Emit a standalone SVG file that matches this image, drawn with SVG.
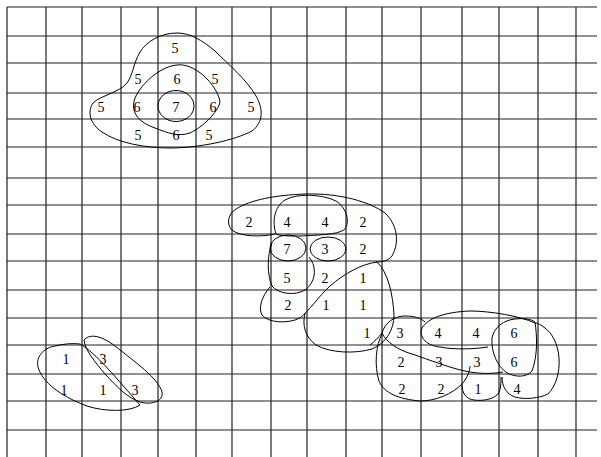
<svg xmlns="http://www.w3.org/2000/svg" width="601" height="457" viewBox="0 0 601 457">
<style>
.g{stroke:#222;stroke-width:1.2;fill:none}
.c{stroke:#000;stroke-width:1;fill:none}
text{font-family:"Liberation Serif","Times New Roman",serif;font-size:14px;text-anchor:middle;fill:#000}
</style>
<rect x="0" y="0" width="601" height="457" fill="#fff"/>
<g id="grid" class="g">
<path d="M7,7V457M46,7V457M82,7V457M121,7V457M158,7V457M196,7V457M232,7V457M271,7V457M307,7V457M346,7V457M382,7V457M421,7V457M462,7V457M499,7V457M538,7V457M576,7V457"/>
<path d="M7,7H597M7,36H597M7,63H597M7,93H597M7,119H597M7,147H597M7,178H597M7,205H597M7,234H597M7,261H597M7,290H597M7,318H597M7,345H597M7,374H597M7,401H597M7,430H597"/>
</g>
<g id="connectors" class="c">
<!-- top cluster -->
<ellipse cx="176" cy="106" rx="18" ry="15.5"/>
<path d="M177,65 C162,66 142,82 135,98 C130,112 138,122 155,128 C168,133 178,137 190,133 C203,127 218,112 220,102 C219,92 208,78 199,72 C192,67 184,64 177,65 Z"/>
<path d="M177,33 C160,33 146,42 140,52 C133,64 133,75 127,83 C120,92 100,96 93,103 C87,112 90,124 102,132 C118,143 145,148 170,148 C200,148 235,140 252,131 C264,122 263,108 256,96 C247,80 228,64 215,51 C202,40 190,33 177,33 Z"/>
<!-- middle cluster -->
<path d="M275,234 C262,237 240,237 232,230 C226,224 228,214 236,209 C250,200 275,195 306,194 C340,193 370,202 385,213 C397,224 400,242 392,256 C388,261 382,262 376,262"/>
<path d="M276,234 C272,222 274,207 285,200 C297,193 322,194 336,201 C347,208 350,222 345,229 C338,235 318,235 300,236 C290,236 280,236 276,234 Z"/>
<ellipse cx="288" cy="248" rx="18" ry="13"/>
<ellipse cx="328" cy="249" rx="18" ry="12"/>
<path d="M272,243 C267,255 267,275 272,286 C278,294 295,296 305,290 C315,283 318,268 309,257"/>
<path d="M270,287 C262,296 258,308 262,315 C268,323 288,324 300,318 C310,310 318,297 330,286 C345,273 362,264 377,262 C388,272 393,295 394,315 C394,330 386,343 372,349 C355,354 330,353 316,345 C305,337 302,325 305,313"/>
<!-- lower right cluster -->
<path d="M382,333 C385,322 395,316 405,316 C414,316 421,318 425,322"/>
<path d="M535,323 C520,316 490,311 470,311 C445,312 428,318 422,328 C418,338 428,346 440,347 C455,350 475,349 488,347"/>
<path d="M535,322 C537,335 538,355 532,371 C526,378 515,377 507,373 C497,366 491,352 492,338 C494,327 504,320 515,319 C524,318 531,319 535,322 Z"/>
<path d="M502,377 C502,386 506,394 515,397 C525,400 540,398 548,394 C556,386 560,372 559,358 C558,344 552,333 545,328 C541,325 538,323 535,323"/>
<path d="M382,333 C386,342 398,350 412,354 C430,360 450,368 465,371 C478,374 492,374 503,372"/>
<path d="M382,334 C376,345 374,365 379,381 C384,393 398,399 420,401 C436,401 452,394 462,384 C468,377 470,370 470,366"/>
<path d="M462,385 C462,393 466,399 474,400 C482,401 492,400 498,394 C501,389 501,383 501,377"/>
<path d="M382,333 C378,338 374,342 370,345"/>
<!-- lower left cluster -->
<path d="M80,344 C95,352 118,380 140,405 C130,412 105,412 87,406 C65,398 45,385 39,370 C34,358 43,348 55,346 C63,344 72,343 80,344 Z"/>
<path d="M84,340 C90,333 102,336 115,346 C135,362 158,378 162,392 C164,402 150,405 140,402 C128,398 118,388 105,374 C95,362 85,350 84,340 Z"/>
</g>
<g id="cluster-top">
<text x="175" y="53">5</text>
<text x="138" y="84">5</text><text x="177" y="84">6</text><text x="215" y="84">5</text>
<text x="101" y="112">5</text><text x="137" y="112">6</text><text x="176" y="112">7</text><text x="213" y="112">6</text><text x="251" y="112">5</text>
<text x="138" y="140">5</text><text x="176" y="140">6</text><text x="209" y="140">5</text>
</g>
<g id="cluster-middle">
<text x="249" y="227">2</text><text x="287" y="227">4</text><text x="325" y="227">4</text><text x="363" y="227">2</text>
<text x="287" y="254">7</text><text x="325" y="254">3</text><text x="363" y="254">2</text>
<text x="287" y="283">5</text><text x="325" y="283">2</text><text x="363" y="283">1</text>
<text x="288" y="310">2</text><text x="326" y="310">1</text><text x="363" y="310">1</text>
<text x="367" y="338">1</text><text x="400" y="338">3</text>
</g>
<g id="cluster-lower-right">
<text x="438" y="338">4</text><text x="476" y="338">4</text><text x="514" y="338">6</text>
<text x="401" y="367">2</text><text x="439" y="367">3</text><text x="477" y="367">3</text><text x="514" y="367">6</text>
<text x="402" y="394">2</text><text x="441" y="394">2</text><text x="478" y="394">1</text><text x="517" y="394">4</text>
</g>
<g id="cluster-lower-left">
<text x="66" y="364">1</text><text x="103" y="364">3</text>
<text x="64" y="395">1</text><text x="103" y="395">1</text><text x="135" y="395">3</text>
</g>
</svg>
